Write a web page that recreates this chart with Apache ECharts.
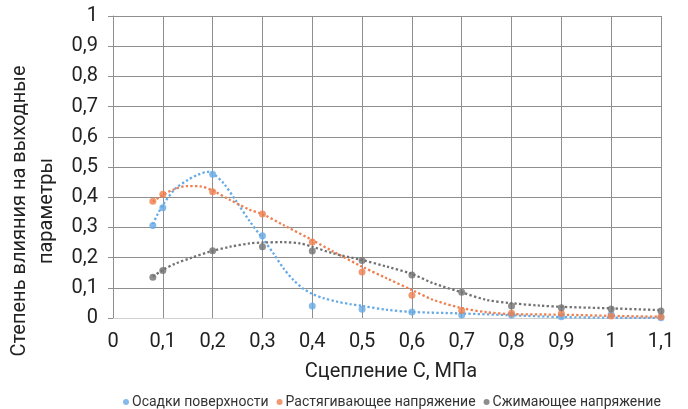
<!DOCTYPE html>
<html>
<head>
<meta charset="utf-8">
<script src="https://cdn.jsdelivr.net/npm/echarts@6/dist/echarts.min.js"></script>
<style>html,body{margin:0;padding:0;background:#fff;}#c{width:688px;height:409px;}</style>
</head>
<body>
<div id="c"></div>
<script>
// Data
const xValues = [0.08, 0.1, 0.2, 0.3, 0.4, 0.5, 0.6, 0.7, 0.8, 0.9, 1.0, 1.1];
const seriesNames = ['Осадки поверхности', 'Растягивающее напряжение', 'Сжимающее напряжение'];
const settlement = [0.306, 0.365, 0.476, 0.272, 0.040, 0.029, 0.020, 0.010, 0.010, 0.004, 0.012, 0.001];
const tensile    = [0.387, 0.410, 0.418, 0.344, 0.252, 0.152, 0.075, 0.025, 0.016, 0.015, 0.007, 0.004];
const compress   = [0.135, 0.157, 0.223, 0.236, 0.222, 0.190, 0.142, 0.085, 0.040, 0.034, 0.030, 0.023];
// Trend lines (dotted)
const trendSettlement = [[0.08,0.311],[0.09,0.345],[0.1,0.374],[0.125,0.428],[0.15,0.457],[0.17,0.474],[0.19,0.484],[0.2,0.479],[0.222,0.446],[0.248,0.385],[0.275,0.319],[0.3,0.264],[0.322,0.214],[0.342,0.165],[0.362,0.126],[0.382,0.097],[0.4,0.08],[0.422,0.066],[0.45,0.054],[0.476,0.046],[0.5,0.04],[0.55,0.027],[0.6,0.02],[0.7,0.015],[0.8,0.009],[0.9,0.003],[1.0,0.001],[1.1,0.0]];
const trendTensile = [[0.08,0.385],[0.1,0.407],[0.125,0.428],[0.15,0.437],[0.175,0.436],[0.2,0.422],[0.235,0.391],[0.275,0.358],[0.3,0.344],[0.342,0.308],[0.4,0.258],[0.442,0.22],[0.5,0.17],[0.55,0.131],[0.6,0.093],[0.643,0.06],[0.7,0.033],[0.75,0.019],[0.8,0.013],[0.9,0.011],[1.0,0.007],[1.1,0.004]];
const trendCompress = [[0.08,0.137],[0.1,0.159],[0.125,0.18],[0.155,0.198],[0.195,0.22],[0.235,0.236],[0.275,0.247],[0.3,0.25],[0.342,0.251],[0.375,0.247],[0.4,0.236],[0.442,0.214],[0.5,0.192],[0.55,0.17],[0.6,0.146],[0.643,0.115],[0.7,0.085],[0.75,0.06],[0.8,0.049],[0.857,0.041],[0.9,0.037],[1.0,0.032],[1.1,0.026]];
const colors = ['#66aae6', '#ef7f4f', '#727272'];

function fmt(v) {
  const r = Math.round(v * 10) / 10;
  if (r === 0) return '0';
  if (r === 1) return '1';
  return r.toFixed(1).replace('.', ',');
}
function pairs(xs, ys) { return xs.map((x, i) => [x, ys[i]]); }

const chart = echarts.init(document.getElementById('c'));
const font = 'Roboto';
const trendStyle = (c) => ({ color: c, width: 2.3, type: [2.3, 2.3], cap: 'butt' });
const trendSeries = (data, c) => ({ type: 'line', data: data, smooth: 0.3, showSymbol: false, symbol: 'none', lineStyle: trendStyle(c), silent: true, z: 2 });

chart.setOption({
  animation: false,
  textStyle: { fontFamily: font },
  grid: { left: 113, right: 27, top: 16, bottom: 91, containLabel: false, outerBoundsMode: 'none' },
  legend: {
    data: seriesNames.map((n, i) => ({ name: n, icon: 'circle', itemStyle: { color: colors[i] } })),
    top: 390,
    left: 118,
    itemWidth: 6, itemHeight: 6, itemGap: 8,
    textStyle: { fontFamily: font, fontSize: 14, color: '#333', padding: [0, 0, 0, -2] }
  },
  xAxis: {
    type: 'value', min: 0, max: 1.1, interval: 0.1,
    name: 'Сцепление С, МПа', nameLocation: 'middle', nameGap: 44,
    nameTextStyle: { fontFamily: font, fontSize: 20, color: '#222', padding: [0, 0, 0, 8] },
    axisLine: { show: true, lineStyle: { color: '#d0d0d0', width: 1 } },
    axisTick: { show: false },
    axisLabel: { formatter: fmt, fontFamily: font, fontSize: 20, color: '#222', margin: 14 },
    splitLine: { show: true, lineStyle: { color: '#8f8f8f', width: 1 } }
  },
  yAxis: {
    type: 'value', min: 0, max: 1, interval: 0.1,
    name: 'Степень влияния на выходные\nпараметры', nameLocation: 'middle', nameGap: 47, nameRotate: 90,
    nameTextStyle: { fontFamily: font, fontSize: 20, color: '#222', lineHeight: 27, padding: [0, 88, 0, 0] },
    axisLine: { show: true, lineStyle: { color: '#8f8f8f', width: 1 } },
    axisTick: { show: true, length: 5, lineStyle: { color: '#8f8f8f' } },
    axisLabel: { formatter: fmt, fontFamily: font, fontSize: 20, color: '#222', margin: 15 },
    splitLine: { show: true, lineStyle: { color: '#8f8f8f', width: 1 } }
  },
  series: [
    Object.assign({ name: 'trend0' }, trendSeries(trendSettlement, colors[0])),
    Object.assign({ name: 'trend1' }, trendSeries(trendTensile, colors[1])),
    Object.assign({ name: 'trend2' }, trendSeries(trendCompress, colors[2])),
    { name: seriesNames[0], type: 'scatter', data: pairs(xValues, settlement), symbol: 'circle', symbolSize: 7, itemStyle: { color: colors[0] }, z: 3 },
    { name: seriesNames[1], type: 'scatter', data: pairs(xValues, tensile), symbol: 'circle', symbolSize: 7, itemStyle: { color: colors[1] }, z: 3 },
    { name: seriesNames[2], type: 'scatter', data: pairs(xValues, compress), symbol: 'circle', symbolSize: 7, itemStyle: { color: colors[2] }, z: 3 }
  ]
});
</script>
</body>
</html>
